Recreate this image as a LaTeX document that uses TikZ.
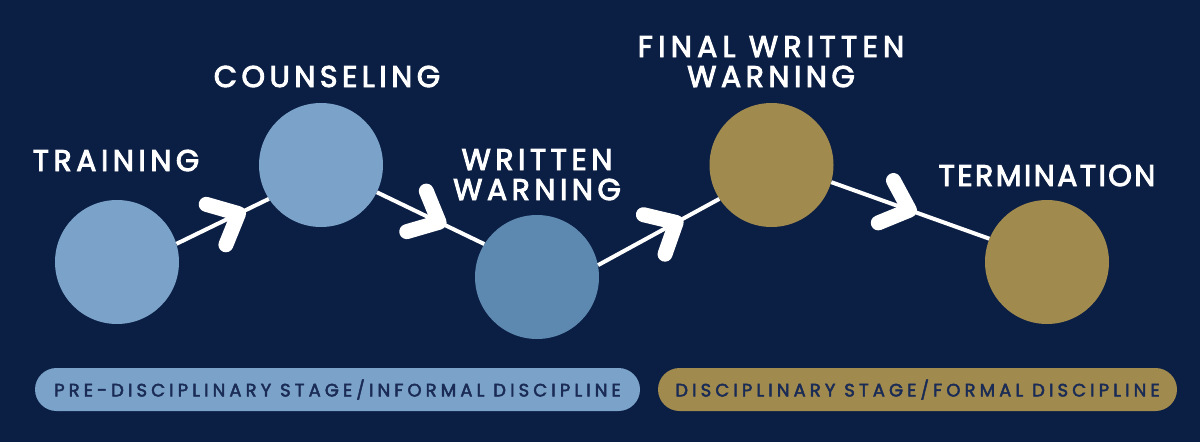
\documentclass[tikz,border=0pt]{standalone}
\usepackage{fontspec}
\newfontfamily\hfont{Poppins}[LetterSpace=15, FakeBold=3.2]
\newfontfamily\pfont{Poppins}[LetterSpace=22.8, FakeBold=2.6]
\usetikzlibrary{decorations.markings}
\definecolor{bg}{HTML}{0B1E44}
\definecolor{lb}{HTML}{7BA3C9}
\definecolor{mb}{HTML}{5D88B0}
\definecolor{gd}{HTML}{A08A4E}
\definecolor{ptx}{HTML}{1A2B55}
\tikzset{
  stage/.style={circle, minimum size=124pt, inner sep=0pt, draw=none},
  lab/.style={text=white, font=\hfont\fontsize{30}{30}\selectfont, inner sep=0pt, anchor=base},
  conn/.style={draw=white, line width=4pt},
  chev/.style={draw=white, line width=15pt, line cap=round, line join=round},
  chevat/.style={postaction={decorate}, decoration={markings,
      mark=at position #1 with {\draw[chev] (-25pt,22.5pt) -- (0pt,0pt) -- (-25pt,-22.5pt);}}},
  pill/.style={rectangle, rounded corners=21.5pt, minimum height=43pt, inner sep=0pt,
      text=ptx, font=\pfont\fontsize{18}{18}\selectfont}
}
\begin{document}
\begin{tikzpicture}[x=1pt,y=-1pt]
\fill[bg] (0,0) rectangle (1200,442);
\useasboundingbox (0,0) rectangle (1200,442);

\node[stage, fill=lb] (tr) at (117,262) {};
\node[stage, fill=lb] (co) at (321,165) {};
\node[stage, fill=mb] (ww) at (537,277) {};
\node[stage, fill=gd] (fw) at (771.5,165) {};
\node[stage, fill=gd] (te) at (1047,262) {};

\node[lab] (trl) at (116,171) {TRAINING};
\node[lab] (col) at (327,87) {COUNSELING};
\node[lab] (wwl1) at (537,170) {WRITTEN};
\node[lab] (wwl2) at (537,200) {WARNING};
\node[lab] (fwl1) at (771,57) {\addfontfeature{LetterSpace=17.5}FINAL WRITTEN};
\node[lab] (fwl2) at (771,87) {WARNING};
\node[lab] (tel) at (1047,186) {\addfontfeature{LetterSpace=8}TERMINATION};

\draw[conn, chevat=69pt] (tr.17.6) -- (co.213);
\draw[conn, chevat=69pt] (co.-26.6) -- (ww.148);
\draw[conn, chevat=89pt] (ww.11) -- (fw.213);
\draw[conn, chevat=83pt] (fw.-16.6) -- (te.158);

\node[pill, fill=lb, minimum width=605pt] (p1) at (337.5,389.5) {PRE-DISCIPLINARY STAGE/INFORMAL DISCIPLINE};
\node[pill, fill=gd, minimum width=519pt] (p2) at (917.5,389.5) {DISCIPLINARY STAGE/FORMAL DISCIPLINE};
\end{tikzpicture}
\end{document}
